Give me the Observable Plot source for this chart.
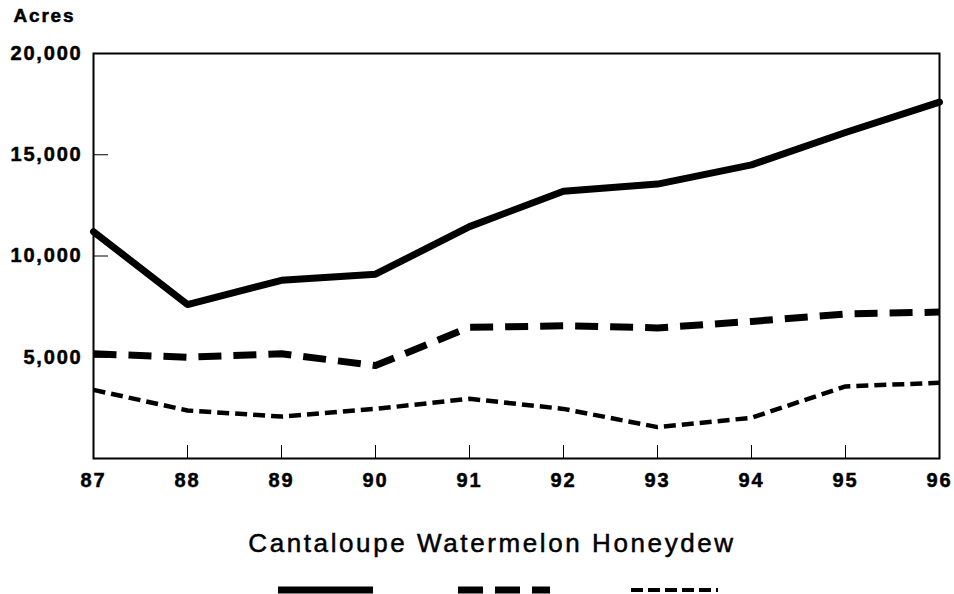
<!DOCTYPE html>
<html>
<head>
<meta charset="utf-8">
<script src="https://cdn.jsdelivr.net/npm/d3@7"></script>
<script src="https://cdn.jsdelivr.net/npm/@observablehq/plot@0.6"></script>
<style>
  html, body { margin: 0; padding: 0; background: #fff; }
  #wrap { position: relative; width: 954px; height: 594px; overflow: hidden; font-family: "Liberation Sans", Arial, sans-serif; }
  #chart { position: absolute; left: 0; top: 0; }
  #chart svg text { letter-spacing: 1.8px; stroke: #000; stroke-width: 0.5px; }
  #legtext { position: absolute; left: 30px; width: 924px; top: 530px; text-align: center; font-size: 26px; line-height: 26px; letter-spacing: 2.6px; color: #000; -webkit-text-stroke: 0.5px #000; }
  #legsw { position: absolute; left: 0; top: 580px; }
</style>
</head>
<body>
<div id="wrap">
  <div id="chart"></div>
  <div id="legtext"></div>
  <svg id="legsw" width="954" height="14"></svg>
</div>
<script>
const years = [87, 88, 89, 90, 91, 92, 93, 94, 95, 96];
const cantaloupe = [11200, 7600, 8800, 9100, 11450, 13200, 13550, 14500, 16100, 17600];
const watermelon = [5170, 5000, 5170, 4590, 6480, 6550, 6450, 6770, 7140, 7230];
const honeydew = [3390, 2370, 2070, 2450, 2950, 2450, 1550, 2010, 3560, 3740];
const seriesNames = ["Cantaloupe", "Watermelon", "Honeydew"];
const yTicks = [5000, 10000, 15000, 20000];
const yUnit = "Acres";

const seriesValues = [cantaloupe, watermelon, honeydew];
const styles = [
  {strokeWidth: 7, strokeDasharray: null, strokeLinecap: "round"},
  {strokeWidth: 7, strokeDasharray: "23,12", strokeLinecap: "butt"},
  {strokeWidth: 4.5, strokeDasharray: "12,6", strokeLinecap: "butt"}
];
const data = seriesNames.flatMap((name, s) => years.map((yr, i) => ({crop: name, year: yr, acres: seriesValues[s][i]})));
const innerYears = years.slice(1, -1);
const FS = 20;

const chart = Plot.plot({
  width: 954,
  height: 500,
  marginTop: 53,
  marginLeft: 93,
  marginRight: 15,
  marginBottom: 42,
  x: {domain: [years[0], years[years.length - 1]]},
  y: {domain: [0, 20000]},
  style: {fontFamily: "'Liberation Sans', Arial, sans-serif", fontSize: FS + "px", fontWeight: "bold", color: "#000", background: "#fff"},
  marks: [
    Plot.axisY({ticks: yTicks, tickSize: -15, tickFormat: () => "", label: null, stroke: "#000"}),
    Plot.axisY({ticks: yTicks, tickSize: 0, tickPadding: 11, tickFormat: d3.format(","), label: null, fill: "#000", fontSize: FS, fontWeight: "bold"}),
    Plot.axisX({ticks: innerYears, tickSize: -13, tickFormat: () => "", label: null, stroke: "#000"}),
    Plot.axisX({ticks: years, tickSize: 0, tickPadding: 14, tickFormat: d => String(d), label: null, fill: "#000", fontSize: FS, fontWeight: "bold"}),
    ...seriesNames.map((name, s) => Plot.line(data.filter(d => d.crop === name), {
      x: "year", y: "acres", stroke: "#000",
      strokeWidth: styles[s].strokeWidth,
      strokeDasharray: styles[s].strokeDasharray,
      strokeLinecap: styles[s].strokeLinecap,
      strokeLinejoin: "round"
    })),
    Plot.frame({stroke: "#000", strokeWidth: 2}),
    Plot.text([yUnit], {frameAnchor: "top-left", dx: -80, dy: -45, textAnchor: "start", lineAnchor: "top", fill: "#000", fontSize: 19, fontWeight: "bold"})
  ]
});
document.getElementById("chart").appendChild(chart);

document.getElementById("legtext").textContent = seriesNames.join(" ");

// legend swatches
const sw = d3.select("#legsw");
const swX = [[278, 373], [458, 550], [631, 718]];
seriesNames.forEach((name, s) => {
  sw.append("line")
    .attr("x1", swX[s][0]).attr("x2", swX[s][1])
    .attr("y1", 10).attr("y2", 10)
    .attr("stroke", "#000")
    .attr("stroke-width", s === 2 ? 4 : 7)
    .attr("stroke-dasharray", styles[s].strokeDasharray ? (s === 1 ? "25,12" : "12,5") : null)
    .attr("stroke-linecap", "butt");
});
</script>
</body>
</html>
